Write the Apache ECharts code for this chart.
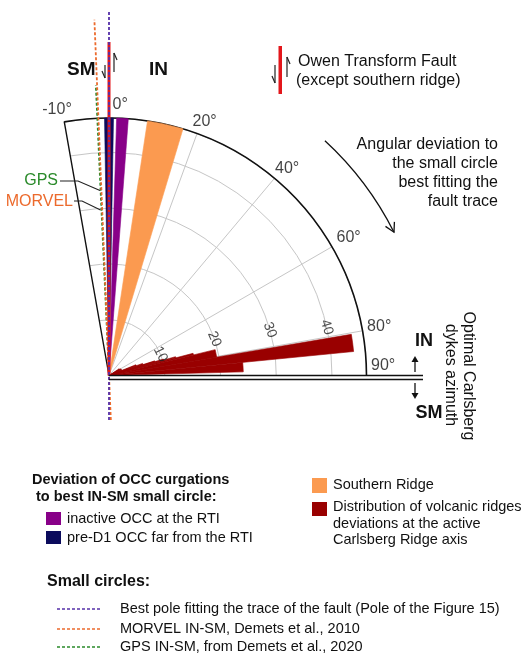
<!DOCTYPE html>
<html>
<head>
<meta charset="utf-8">
<script src="https://cdn.jsdelivr.net/npm/echarts@6/dist/echarts.min.js"></script>
<style>
  html, body { margin: 0; padding: 0; background: #fff; }
  #chart { width: 531px; height: 659px; }
</style>
</head>
<body>
<div id="chart"></div>
<script>
// angular deviation (deg) to the small circle best fitting the fault trace
const occInactive = [1.7, 4.3];
const occPreD1 = [-1.0, 1.0];
const southernRidge = [8.6, 16.7];

// volcanic ridges of the active Carlsberg axis: bins (deg) and counts
const ridgeFrom  = [56.05, 60.1, 64.15, 68.2, 70.2, 72.2, 73.2, 74.2, 75.2, 76.3, 80.35, 84.4];
const ridgeTo    = [60.1, 64.15, 68.2, 70.2, 72.2, 73.2, 74.2, 75.2, 76.3, 80.35, 84.4, 88.45];
const ridgeCount = [2.2, 2.4, 2.5, 5.2, 6.4, 8.6, 10.2, 12.4, 15.6, 19.6, 44.1, 24.1];

// small circles (deg from the fault trace)
const circleNames = [
    'Best pole fitting the trace of the fault (Pole of the Figure 15)',
    'MORVEL IN-SM, Demets et al., 2010',
    'GPS IN-SM, from Demets et al., 2020'
];
const circleAngles = [0, -2.35, -2.6];
const faultAngle = 0;

const angleTicks = [-10, 0, 20, 40, 60, 80, 90];
const radiusTicks = [10, 20, 30, 40];

const FONT = "'Liberation Sans', Arial, sans-serif";
const CX = 109, CY = 375.5, R = 257.5, RMAX = 46.2;

const C_PURPLE = '#880088', C_NAVY = '#0b0b5c', C_ORANGE = '#fb9a50', C_DARKRED = '#990000';
const C_BEST = '#5530a8', C_MORVEL = '#ec6a2c', C_GPS = '#2a8a2a', C_FAULT = '#e3161b';

function sectorRender(params, api) {
    const cs = params.coordSys;
    const v = api.value(0);
    const p0 = api.coord([v, api.value(1)]);
    const p1 = api.coord([v, api.value(2)]);
    const color = api.visual('color');
    return {
        type: 'sector',
        shape: {
            cx: cs.cx, cy: cs.cy, r0: 0,
            r: Math.hypot(p0[0] - cs.cx, p0[1] - cs.cy),
            startAngle: Math.atan2(p0[1] - cs.cy, p0[0] - cs.cx),
            endAngle: Math.atan2(p1[1] - cs.cy, p1[0] - cs.cx),
            clockwise: true
        },
        style: { fill: color, stroke: color, lineWidth: 0.6 }
    };
}

function sectorSeries(name, from, to, values, color) {
    return {
        name: name, type: 'custom', coordinateSystem: 'polar', polarIndex: 0,
        renderItem: sectorRender, itemStyle: { color: color }, z: 3, silent: true,
        encode: { radius: 0, angle: 1 },
        data: values.map((v, i) => [v, from[i], to[i]])
    };
}

// straight trace through the pole centre, lengths in px
function raySeries(angle, color, width, dash, topLen, bottomLen, z) {
    return {
        type: 'custom', coordinateSystem: 'polar', polarIndex: 0, z: z, silent: true,
        encode: { radius: 0, angle: 1 },
        data: [[RMAX, angle]],
        renderItem: function (params, api) {
            const cs = params.coordSys;
            const p = api.coord([RMAX, api.value(1)]);
            const dx = p[0] - cs.cx, dy = p[1] - cs.cy, d = Math.hypot(dx, dy);
            const ux = dx / d, uy = dy / d;
            return {
                type: 'line',
                shape: {
                    x1: cs.cx - ux * bottomLen, y1: cs.cy - uy * bottomLen,
                    x2: cs.cx + ux * topLen, y2: cs.cy + uy * topLen
                },
                style: { stroke: color, lineWidth: width, lineDash: dash }
            };
        }
    };
}

const angleLabelPlace = {
    '-10': { align: 'right', offset: [8, -4] },
    '0': { align: 'left', offset: [4, -5] },
    '20': { align: 'left', offset: [-4, -3] },
    '40': { align: 'left', offset: [1, -1] },
    '60': { align: 'left', offset: [5, -1] },
    '80': { align: 'left', offset: [5, 4] },
    '90': { align: 'left', offset: [5, -1] }
};

// graphic helpers
function txt(x, y, text, o) {
    o = o || {};
    return {
        type: 'text', x: x, y: y, rotation: o.rot || 0, z: 100,
        style: {
            text: text, fill: o.color || '#111',
            fontSize: o.size || 16, fontFamily: FONT, fontWeight: o.bold ? 'bold' : 'normal',
            align: o.align || 'left', verticalAlign: 'middle'
        }
    };
}
function seg(x1, y1, x2, y2, color, w, dash) {
    return { type: 'line', z: 100, shape: { x1: x1, y1: y1, x2: x2, y2: y2 },
        style: { stroke: color || '#111', lineWidth: w || 1.2, lineDash: dash || null } };
}
function poly(points, color, w) {
    return { type: 'polyline', z: 100, shape: { points: points },
        style: { stroke: color || '#111', lineWidth: w || 1.2, fill: null } };
}
function box(x, y, w, h, color) {
    return { type: 'rect', z: 100, shape: { x: x, y: y, width: w, height: h }, style: { fill: color } };
}
function tri(points, color) {
    return { type: 'polygon', z: 100, shape: { points: points }, style: { fill: color || '#111' } };
}
// half arrows of the strike-slip symbol
function halfArrows(xl, xr, downTop, downBot, upTop, upBot) {
    return [
        seg(xl, downTop, xl, downBot, '#222', 1.2), seg(xl, downBot, xl - 3, downBot - 7, '#222', 1.2),
        seg(xr, upTop, xr, upBot, '#222', 1.2), seg(xr, upTop, xr + 3, upTop + 7, '#222', 1.2)
    ];
}

// curved arrow around the diagram
const arrowR = 319, arrowA0 = (42.6 - 90) * Math.PI / 180, arrowA1 = (63.3 - 90) * Math.PI / 180;
const tipX = CX + arrowR * Math.cos(arrowA1), tipY = CY + arrowR * Math.sin(arrowA1);
const tdx = -Math.sin(arrowA1), tdy = Math.cos(arrowA1);
const ndx = Math.cos(arrowA1), ndy = Math.sin(arrowA1);

const graphics = [
    // 90° boundary double line
    seg(CX, CY, 423, CY, '#111', 1.6),
    seg(CX, CY + 4, 423, CY + 4, '#111', 1.6),

    txt(67, 70, 'SM', { bold: true, size: 19 }),
    txt(149, 70, 'IN', { bold: true, size: 19 }),
    ...halfArrows(105, 114, 65, 78, 53, 72),

    // fault legend
    box(278.5, 46, 3.5, 48, C_FAULT),
    ...halfArrows(275, 287, 65, 83, 57, 77),
    txt(298, 62, 'Owen Transform Fault'),
    txt(296, 81, '(except southern ridge)'),

    // angular deviation note
    { type: 'arc', z: 100, shape: { cx: CX, cy: CY, r: arrowR, startAngle: arrowA0, endAngle: arrowA1, clockwise: true },
      style: { stroke: '#111', lineWidth: 1.3, fill: null } },
    poly([[tipX - 9 * tdx + 5 * ndx, tipY - 9 * tdy + 5 * ndy], [tipX, tipY], [tipX - 9 * tdx - 5 * ndx, tipY - 9 * tdy - 5 * ndy]], '#111', 1.3),
    txt(498, 145, 'Angular deviation to', { align: 'right' }),
    txt(498, 164, 'the small circle', { align: 'right' }),
    txt(498, 183, 'best fitting the', { align: 'right' }),
    txt(498, 202, 'fault trace', { align: 'right' }),

    // GPS / MORVEL pointers
    txt(58, 181, 'GPS', { align: 'right', color: C_GPS }),
    poly([[60, 181], [78, 181], [100, 190.5]], '#222', 1.1),
    txt(73, 202, 'MORVEL', { align: 'right', color: C_MORVEL }),
    poly([[74, 201], [82, 201], [100.5, 210]], '#222', 1.1),

    // IN / SM on the right
    txt(415, 341, 'IN', { bold: true, size: 18 }),
    seg(415, 372, 415, 361, '#111', 1.3), tri([[411.5, 362], [418.5, 362], [415, 356]]),
    seg(415, 383, 415, 394, '#111', 1.3), tri([[411.5, 393], [418.5, 393], [415, 399]]),
    txt(415.5, 413.5, 'SM', { bold: true, size: 18 }),
    txt(468, 376, 'Optimal Carlsberg', { align: 'center', rot: -Math.PI / 2 }),
    txt(450, 375, 'dykes azimuth', { align: 'center', rot: -Math.PI / 2 }),

    // legend
    txt(32, 480, 'Deviation of OCC curgations', { bold: true, size: 14.5 }),
    txt(32, 497, ' to best IN-SM small circle:', { bold: true, size: 14.5 }),
    box(46, 512, 15, 13, C_PURPLE),
    txt(67, 518.5, 'inactive OCC at the RTI', { size: 14.5 }),
    box(46, 531, 15, 13, C_NAVY),
    txt(67, 538, 'pre-D1 OCC far from the RTI', { size: 14.5 }),
    box(312, 478, 15, 15, C_ORANGE),
    txt(333, 485, 'Southern Ridge', { size: 14.5 }),
    box(312, 502, 15, 14, C_DARKRED),
    txt(333, 507, 'Distribution of volcanic ridges', { size: 14.5 }),
    txt(333, 523.5, 'deviations at the active', { size: 14.5 }),
    txt(333, 540, 'Carlsberg Ridge axis', { size: 14.5 }),

    txt(47, 582, 'Small circles:', { bold: true, size: 16 }),
    seg(57, 609, 102, 609, C_BEST, 1.5, [3, 2]),
    txt(120, 609, circleNames[0], { size: 14.5 }),
    seg(57, 629, 102, 629, C_MORVEL, 1.5, [3, 2]),
    txt(120, 629, circleNames[1], { size: 14.5 }),
    seg(57, 647, 102, 647, C_GPS, 1.5, [3, 2]),
    txt(120, 647, circleNames[2], { size: 14.5 })
];

const chart = echarts.init(document.getElementById('chart'));
const option = {
    animation: false,
    backgroundColor: '#fff',
    textStyle: { fontFamily: FONT },
    polar: [
        { center: [CX, CY], radius: R },
        { center: [CX, CY], radius: R }
    ],
    angleAxis: [
        {
            polarIndex: 0, type: 'value', min: -10, max: 90,
            startAngle: 100, endAngle: 0, clockwise: true,
            axisLine: { lineStyle: { color: '#111', width: 1.6 } },
            axisTick: { show: false }, axisLabel: { show: false }, splitLine: { show: false }
        },
        {
            polarIndex: 1, type: 'value', min: 0, max: 90, interval: 20,
            startAngle: 90, endAngle: 0, clockwise: true,
            axisLine: { show: false }, axisTick: { show: false }, axisLabel: { show: false },
            splitLine: { lineStyle: { color: '#c6c6c6', width: 1 } }
        }
    ],
    radiusAxis: [
        {
            polarIndex: 0, type: 'value', min: 0, max: RMAX, interval: 10,
            axisLine: { lineStyle: { color: '#111', width: 1.4 } },
            axisTick: { show: false }, axisLabel: { show: false },
            splitLine: { lineStyle: { color: '#c6c6c6', width: 1 } }
        },
        {
            polarIndex: 1, type: 'value', min: 0, max: RMAX,
            axisLine: { show: false }, axisTick: { show: false }, axisLabel: { show: false },
            splitLine: { show: false }
        }
    ],
    series: [
        sectorSeries('Southern Ridge', [southernRidge[0]], [southernRidge[1]], [RMAX], C_ORANGE),
        sectorSeries('inactive OCC at the RTI', [occInactive[0]], [occInactive[1]], [RMAX], C_PURPLE),
        sectorSeries('pre-D1 OCC far from the RTI', [occPreD1[0]], [occPreD1[1]], [RMAX], C_NAVY),
        sectorSeries('Carlsberg volcanic ridges', ridgeFrom, ridgeTo, ridgeCount, C_DARKRED),

        raySeries(circleAngles[2], C_GPS, 1.8, [3, 2], 290.5, 0, 6),
        raySeries(circleAngles[1], C_MORVEL, 1.8, [3, 2], 356, 44.5, 7),
        raySeries(faultAngle, C_FAULT, 3, null, 333.5, 0, 8),
        raySeries(circleAngles[0], C_BEST, 1.8, [3, 2], 363.5, 44.5, 9),

        {
            type: 'scatter', coordinateSystem: 'polar', polarIndex: 0, silent: true, clip: false, z: 10,
            symbolSize: 1, itemStyle: { color: 'rgba(0,0,0,0)' },
            data: angleTicks.map(a => ({ value: [RMAX, a], label: angleLabelPlace[String(a)] })),
            label: {
                show: true, position: [0, 0], verticalAlign: 'bottom',
                formatter: p => p.value[1] + '°', fontSize: 16, color: '#111', fontFamily: FONT
            }
        },
        {
            type: 'scatter', coordinateSystem: 'polar', polarIndex: 0, silent: true, clip: false, z: 10,
            symbolSize: 1, itemStyle: { color: 'rgba(0,0,0,0)' },
            data: radiusTicks.map(v => {
                const a = 64.3 + 0.33 * v;
                return { value: [v, a], label: { rotate: -(a - 4) } };
            }),
            label: {
                show: true, position: 'inside', formatter: p => String(p.value[0]),
                fontSize: 14, color: '#222', fontFamily: FONT
            }
        }
    ],
    graphic: graphics
};
chart.setOption(option);
</script>
</body>
</html>
